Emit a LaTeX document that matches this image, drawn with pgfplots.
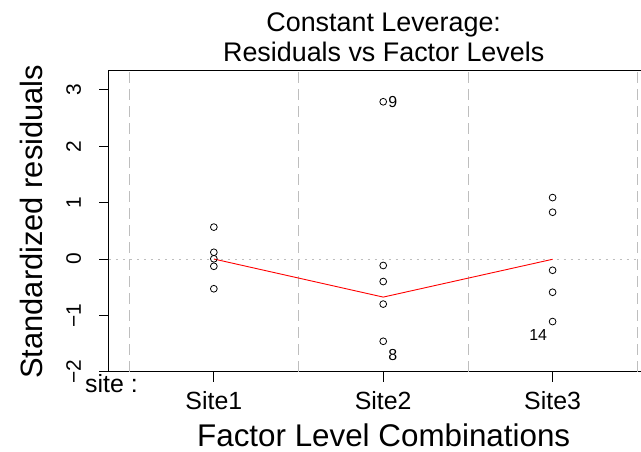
\documentclass[border=0pt]{standalone}
\usepackage{fontspec}
\setmainfont{Liberation Sans}
\usepackage{pgfplots}
\usepackage{pgfplotstable}
\pgfplotsset{compat=1.18}

% standardized residuals by factor level (1 = Site1, 2 = Site2, 3 = Site3)
\pgfplotstableread{
x y
1 0.566
1 0.119
1 0.004
1 -0.129
1 -0.528
2 2.79
2 -0.115
2 -0.40
2 -0.80
2 -1.46
3 1.09
3 0.83
3 -0.20
3 -0.59
3 -1.11
}\resid

% smoother through the factor levels
\pgfplotstableread{
x y
1 0.0
2 -0.676
3 -0.005
}\smooth

\definecolor{refgray}{RGB}{190,190,190}
\definecolor{framecol}{RGB}{0,0,0}
\tikzset{ylab/.style={rotate=90, anchor=base, inner sep=0pt, font=\fontsize{21}{23}\selectfont}}

\begin{document}
\begin{tikzpicture}
\begin{axis}[
  at={(0,0)}, anchor=south west,
  scale only axis,
  width=532bp, height=301bp,
  xmin=0.3805, xmax=3.519,
  ymin=-2, ymax=3.337,
  axis line style={draw=none},
  xtick pos=bottom, ytick pos=left,
  major tick length=0bp,
  xtick={1,2,3},
  xticklabels={Site1,Site2,Site3},
  ytick={-2,-1,0,1,2,3},
  yticklabels={},
  xticklabel style={font=\fontsize{25}{27}\selectfont, anchor=base, inner sep=0pt},
  xticklabel shift=38bp,
  clip=false,
]
  % plot frame, open on the right
  \addplot[framecol, line width=1bp, forget plot]
    coordinates {(3.519,3.337) (0.3805,3.337) (0.3805,-2) (3.519,-2)};
  % outward tick marks on the left and bottom sides
  \addplot[framecol, line width=1bp, forget plot] coordinates {
    (0.3805,-2) (0.3215,-2)

    (0.3805,-1) (0.3215,-1)

    (0.3805,0) (0.3215,0)

    (0.3805,1) (0.3215,1)

    (0.3805,2) (0.3215,2)

    (0.3805,3) (0.3215,3)

    (1,-2) (1,-2.177)

    (2,-2) (2,-2.177)

    (3,-2) (3,-2.177)
  };
  % level separators and zero reference
  \addplot[refgray, line width=0.8bp, dash pattern=on 11bp off 6bp]
    coordinates {(0.5,-2) (0.5,3.337)};
  \addplot[refgray, line width=0.8bp, dash pattern=on 11bp off 6bp]
    coordinates {(1.5,-2) (1.5,3.337)};
  \addplot[refgray, line width=0.8bp, dash pattern=on 11bp off 6bp]
    coordinates {(2.5,-2) (2.5,3.337)};
  \addplot[refgray, line width=0.8bp, dash pattern=on 11bp off 6bp]
    coordinates {(3.5,-2) (3.5,3.337)};
  \addplot[refgray, line width=0.8bp, dash pattern=on 2bp off 5bp]
    coordinates {(0.3805,0) (3.519,0)};
  % residuals
  \addplot[only marks, mark=o, mark size=3.4bp, black, line width=0.8bp]
    table[x=x, y=y] {\resid};
  % smoother
  \addplot[red, line width=0.9bp] table[x=x, y=y] {\smooth};
  % labelled observations
  \node[font=\fontsize{16}{18}\selectfont, anchor=west, inner sep=0pt]
    at ([xshift=5bp]axis cs:2,2.79) {9};
  \node[font=\fontsize{16}{18}\selectfont, inner sep=0pt]
    at ([xshift=9.5bp,yshift=-13.5bp]axis cs:2,-1.46) {8};
  \node[font=\fontsize{16}{18}\selectfont, inner sep=0pt]
    at ([xshift=-14.5bp,yshift=-13bp]axis cs:3,-1.11) {14};
  % y tick labels, set upright along the axis
  \node[ylab] at ([xshift=-28bp]axis cs:0.3805,-2) {−2};
  \node[ylab] at ([xshift=-28bp]axis cs:0.3805,-1) {−1};
  \node[ylab] at ([xshift=-28bp]axis cs:0.3805,0) {0};
  \node[ylab] at ([xshift=-28bp]axis cs:0.3805,1) {1};
  \node[ylab] at ([xshift=-28bp]axis cs:0.3805,2) {2};
  \node[ylab] at ([xshift=-28bp]axis cs:0.3805,3) {3};
\end{axis}
% titles and labels
\node[anchor=base, font=\fontsize{27}{29}\selectfont] at (275bp,340bp) {Constant Leverage:};
\node[anchor=base, font=\fontsize{27}{29}\selectfont] at (275bp,310bp) {Residuals vs Factor Levels};
\node[anchor=base, inner sep=0pt, font=\fontsize{31.5}{33}\selectfont] at (275bp,-75bp) {Factor Level Combinations};
\node[anchor=base, rotate=90, font=\fontsize{31}{33}\selectfont] at (-66bp,150bp) {Standardized residuals};
\node[anchor=base west, inner sep=0pt, font=\fontsize{25}{27}\selectfont] at (-24bp,-21bp) {site :};
\path[use as bounding box] (-109bp,-80bp) rectangle (532bp,372bp);
\end{tikzpicture}
\end{document}
